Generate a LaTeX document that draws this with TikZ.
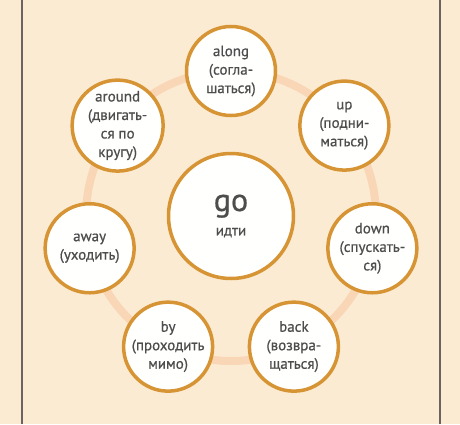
\documentclass[tikz,border=0pt]{standalone}
\usepackage{fontspec}
\setmainfont{PT Sans}[UprightFeatures={FakeBold=0.6}]
\definecolor{fundo}{HTML}{FCEBD3}
\definecolor{borda}{HTML}{D69434}
\definecolor{anel}{HTML}{F8D6B6}
\definecolor{texto}{HTML}{4D4D4D}
\definecolor{linha}{HTML}{6B6360}
\begin{document}
\begin{tikzpicture}[x=1pt,y=1pt]
        %======definicao dos blocos==========%

            \tikzstyle{verbo}=[circle,draw=borda,line width=3.5pt,fill=white!98!fundo,
                minimum size=89pt,inner sep=0pt,align=center,text=texto,
                font=\fontsize{15}{18.5}\selectfont]
            \tikzstyle{centro}=[verbo,minimum size=125pt]
            \tikzstyle{anel}=[draw=anel,line width=8pt]
            \tikzstyle{margem}=[draw=linha,line width=1.5pt]

        %====================%%=============%

            \fill[fundo] (-231,-208) rectangle (229,216);
            \useasboundingbox (-231,-208) rectangle (229,216);
            \draw[margem] (-209,-208) -- (-209,216);
            \draw[margem] (209,-208) -- (209,216);

            \draw[anel] (0,0) circle (145);

            \node[centro](A) at (0,0) {{\fontsize{32}{30}\selectfont go}\\[6pt]идти};
            \node[verbo](B) at (90:145) {along\\(согла-\\шаться)};
            \node[verbo](C) at (38.57:145) {up\\(подни-\\маться)};
            \node[verbo](D) at (-12.86:145) {down\\(спускать-\\ся)};
            \node[verbo](E) at (-64.29:145) {back\\(возвра-\\щаться)};
            \node[verbo](F) at (-115.71:145) {by\\(проходить\\мимо)};
            \node[verbo](G) at (-167.14:145) {away\\(уходить)};
            \node[verbo](H) at (141.43:145) {around\\(двигать-\\ся по\\кругу)};
        \end{tikzpicture}
\end{document}
